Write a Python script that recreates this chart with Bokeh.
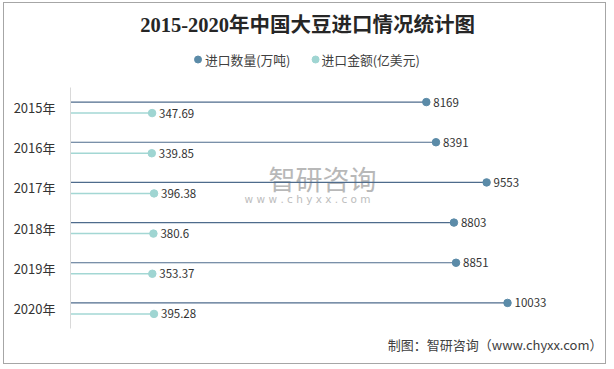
from bokeh.plotting import figure
from bokeh.layouts import column
from bokeh.models import FactorRange, Range1d, ColumnDataSource, Label
from bokeh.transform import dodge
from bokeh.core.properties import value
from bokeh.embed import file_html
from bokeh.resources import INLINE

# ---- data ----
years = ["2015年", "2016年", "2017年", "2018年", "2019年", "2020年"]
volume = [8169, 8391, 9553, 8803, 8851, 10033]            # 进口数量(万吨)
amount = [347.69, 339.85, 396.38, 380.6, 353.37, 395.28]   # 进口金额(亿美元)
volume_labels = ["8169", "8391", "9553", "8803", "8851", "10033"]
amount_labels = ["347.69", "339.85", "396.38", "380.6", "353.37", "395.28"]
series_names = ["进口数量(万吨)", "进口金额(亿美元)"]
title_text = "2015-2020年中国大豆进口情况统计图"
source_text = "制图：智研咨询（www.chyxx.com）"
watermark_cn = "智研咨询"
watermark_en = "w w w . c h y x x . c o m"

BLUE_LINE = "#4e6b8c"
BLUE_DOT = "#5b8ba8"
TEAL_LINE = "#a3d7d4"
TEAL_DOT = "#9fd5d2"
TEXT = "#333333"
CJK = "Noto Sans CJK SC"

W = 603
FL, FR = 66, 3            # frame borders (left / right) shared by all stacked figures
FW = W - FL - FR          # frame width in px (534)
X_END = 12214
TEAL_START, TEAL_END = -1700, 11650


def blank(h):
    f = figure(width=W, height=h, output_backend="svg", toolbar_location=None,
               x_range=Range1d(FL, W - FR), y_range=Range1d(h, 0),
               x_axis_location=None, y_axis_location=None,
               min_border_left=FL, min_border_right=FR, min_border_top=0, min_border_bottom=0,
               outline_line_color=None)
    for g in f.grid:
        g.visible = False
    return f


# ---- header: title + legend ----
top = blank(84)
top.text(x=[304], y=[21], text=[title_text], text_align="center", text_baseline="middle",
         text_font=value("Liberation Serif, Noto Sans CJK SC"), text_font_style="bold",
         text_font_size="20.5px", text_color="#262626")
top.scatter(x=[194, 312], y=[56, 56], size=7, fill_color=[BLUE_DOT, TEAL_DOT],
            line_color=[BLUE_DOT, TEAL_DOT])
top.text(x=[201, 318], y=[56, 56], text=series_names, text_align="left", text_baseline="middle",
         text_font=value(CJK), text_font_size="12.8px", text_color="#404040")

# ---- main chart ----
src = ColumnDataSource(dict(year=years, volume=volume, amount=amount,
                            vl=volume_labels, al=amount_labels,
                            base=[0] * len(years),
                            tbase=[TEAL_START] * len(years)))

p = figure(width=W, height=248, output_backend="svg", toolbar_location=None,
           x_range=Range1d(0, X_END), y_range=FactorRange(factors=years[::-1]),
           x_axis_location=None, y_axis_location="left",
           min_border_left=FL, min_border_right=FR, min_border_top=0, min_border_bottom=7,
           outline_line_color=None)
p.extra_x_ranges = {"teal": Range1d(TEAL_START, TEAL_END)}
for g in p.grid:
    g.visible = False

ya = p.yaxis[0]
ya.axis_line_color = "#d9d9d9"
ya.major_tick_line_color = None
ya.minor_tick_line_color = None
ya.major_tick_out = 0
ya.major_label_standoff = 15
ya.major_label_text_font_size = "13px"
ya.major_label_text_font = CJK
ya.major_label_text_color = TEXT

OFF = 0.137
yb = dodge("year", OFF, range=p.y_range)
yt = dodge("year", -OFF, range=p.y_range)


# picture pixel -> data coordinates (frame spans x 70..604, y 87..328)
def dx(ix):
    return (ix - 70) / FW * X_END


def dy(iy):
    return 6 * (328 - iy) / 241


# watermark (underlay)
p.add_layout(Label(x=dx(323), y=dy(178), text=watermark_cn, text_align="center",
                   text_baseline="middle", text_font=CJK, text_font_size="27px",
                   text_color="#b8b8b8", level="underlay"))
p.add_layout(Label(x=dx(308), y=dy(198), text=watermark_en, text_align="center",
                   text_baseline="middle", text_font="DejaVu Sans", text_font_size="10.5px",
                   text_color="#bdbdbd", level="underlay"))

p.segment(x0="base", y0=yb, x1="volume", y1=yb, source=src, line_color=BLUE_LINE, line_width=1.2)
p.scatter(x="volume", y=yb, source=src, size=7.5, fill_color=BLUE_DOT, line_color=BLUE_DOT)
p.text(x="volume", y=yb, text="vl", source=src, x_offset=7, text_baseline="middle",
       text_font=value(CJK), text_font_size="11.5px", text_color=TEXT)

p.segment(x0="tbase", y0=yt, x1="amount", y1=yt, source=src, line_color=TEAL_LINE,
          line_width=1.5, x_range_name="teal")
p.scatter(x="amount", y=yt, source=src, size=7.5, fill_color=TEAL_DOT, line_color=TEAL_DOT,
          x_range_name="teal")
p.text(x="amount", y=yt, text="al", source=src, x_offset=7, text_baseline="middle",
       text_font=value(CJK), text_font_size="11.5px", text_color=TEXT, x_range_name="teal")

# ---- footer ----
bot = blank(28)
bot.text(x=[600], y=[9], text=[source_text], text_align="right", text_baseline="middle",
         text_font=value(CJK), text_font_size="13px", text_color="#404040")

layout = column(top, p, bot, spacing=0,
                styles={"margin-left": "3px", "margin-top": "2px",
                        "border": "1px solid #a6a6a6", "width": "603px"})

open("out.html", "w").write(file_html(layout, INLINE))
